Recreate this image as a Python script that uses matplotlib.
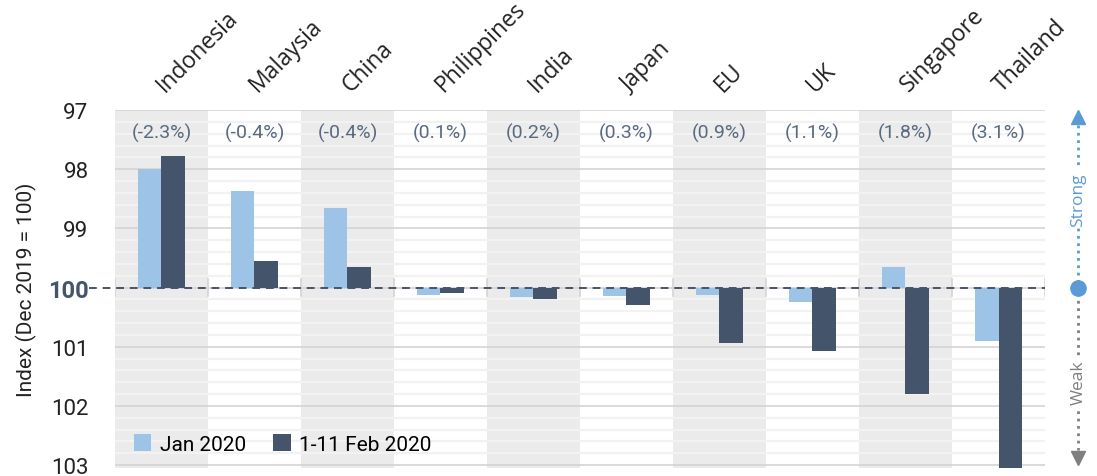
import matplotlib
matplotlib.use("Agg")
import matplotlib.pyplot as plt
import numpy as np

COUNTRIES = ["Indonesia", "Malaysia", "China", "Philippines", "India",
             "Japan", "EU", "UK", "Singapore", "Thailand"]
JAN = [97.99, 98.37, 98.66, 100.13, 100.16, 100.15, 100.13, 100.25, 99.65, 100.90]
FEB = [97.77, 99.56, 99.65, 100.10, 100.20, 100.29, 100.94, 101.07, 101.80, 103.05]
CHANGE = ["(-2.3%)", "(-0.4%)", "(-0.4%)", "(0.1%)", "(0.2%)",
          "(0.3%)", "(0.9%)", "(1.1%)", "(1.8%)", "(3.1%)"]
YTICKS = [97, 98, 99, 100, 101, 102, 103]

LIGHT = "#9DC3E6"
DARK = "#44546A"
TXT = "#5A6A80"
BASE = 100

fig = plt.figure(figsize=(10.97, 4.77), dpi=100)
# y=97 at ~111px, 103 at ~466px
ax = fig.add_axes([0.1048, 0.0168, 0.8478, 0.7505])

x = np.arange(len(COUNTRIES))
w = 0.25
ax.set_xlim(-0.5, len(COUNTRIES) - 0.5)
ax.set_ylim(103.05, 97)

# alternating column shading
for i in x[::2]:
    ax.axvspan(i - 0.5, i + 0.5, color="#EBEBEB", lw=0, zorder=0)

# gridlines
for v in np.arange(97, 103.01, 0.2):
    major = abs(v - round(v)) < 1e-6
    ax.axhline(v, color="#D4D4D4" if major else "#F2F2F2",
               lw=1.2 if major else 1.6, zorder=1)

ax.bar(x - w / 2, np.array(JAN) - BASE, width=w, bottom=BASE, color=LIGHT,
       zorder=3, label="Jan 2020")
ax.bar(x + w / 2, np.array(FEB) - BASE, width=w, bottom=BASE, color=DARK,
       zorder=3, label="1-11 Feb 2020")

# category boundary ticks at baseline
for b in np.arange(-0.5, len(COUNTRIES), 1.0):
    ax.plot([b, b], [99.85, 100.15], color="#D4D4D4", lw=1.2, zorder=2)

ax.plot([-0.78, len(COUNTRIES) - 0.5], [BASE, BASE], ls=(0, (4, 3)),
        color=DARK, lw=1.4, zorder=4, clip_on=False)

for i, (c, t) in enumerate(zip(COUNTRIES, CHANGE)):
    ax.text(i, 97.38, t, ha="center", va="center", fontsize=14,
            color=TXT, family="Roboto", zorder=5)
    ax.text(i + 0.03, 96.7, c, rotation=45, rotation_mode="anchor",
            ha="left", va="baseline", fontsize=16.5, color="#222222",
            family="Open Sans")

ax.set_xticks([])
ax.set_yticks(YTICKS)
ax.set_yticklabels([str(v) for v in YTICKS], family="Roboto", fontsize=16,
                   color="#222222")
for lab in ax.get_yticklabels():
    if lab.get_text() == "100":
        lab.set_fontweight("bold")
        lab.set_color(DARK)
        lab.set_fontsize(17)
ax.tick_params(axis="y", length=0, pad=19)
for s in ax.spines.values():
    s.set_visible(False)
ax.set_ylabel("Index (Dec 2019 = 100)", family="Roboto", fontsize=15,
              color="#222222", labelpad=8)

ax.legend(loc="lower left", bbox_to_anchor=(0.0, -0.012), frameon=False,
          ncol=2, prop={"family": "Roboto", "size": 15}, handlelength=0.85,
          handleheight=0.85, columnspacing=1.3, handletextpad=0.4)

# Strong / Weak indicator on the right
xr = 1.036
tr = ax.get_yaxis_transform()
ax.plot([xr, xr], [97.25, 99.9], ls=":", color="#5B9BD5", lw=2,
        transform=tr, clip_on=False)
ax.plot([xr, xr], [100.1, 102.75], ls=":", color="#7F7F7F", lw=2,
        transform=tr, clip_on=False)
ax.plot([xr], [97.12], marker="^", ms=10, color="#5B9BD5", transform=tr,
        clip_on=False)
ax.plot([xr], [102.88], marker="v", ms=10, color="#7F7F7F", transform=tr,
        clip_on=False)
ax.plot([xr], [100], marker="o", ms=11, color="#5B9BD5", transform=tr,
        clip_on=False)
ax.text(xr, 98.5, "Strong", rotation=90, ha="center", va="center",
        fontsize=12.5, color="#5B9BD5", family="Open Sans", transform=tr,
        bbox=dict(facecolor="white", edgecolor="none", pad=2))
ax.text(xr, 101.6, "Weak", rotation=90, ha="center", va="center",
        fontsize=12.5, color="#7F7F7F", family="Open Sans", transform=tr,
        bbox=dict(facecolor="white", edgecolor="none", pad=2))

fig.savefig("out.png", dpi=100)
